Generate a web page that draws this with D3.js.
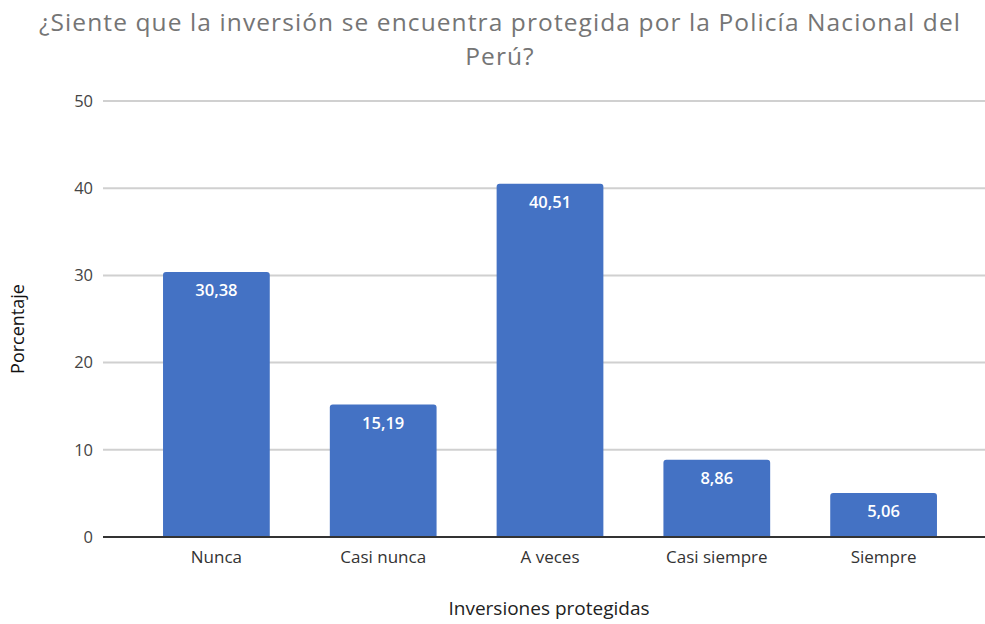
<!DOCTYPE html>
<html>
<head>
<meta charset="utf-8">
<script src="https://cdn.jsdelivr.net/npm/d3@7"></script>
<style>
  body { margin: 0; background: #fff; }
  svg { font-family: "Open Sans", "Noto Sans", sans-serif; }
</style>
</head>
<body>
<div id="chart"></div>
<script>
var categories = ["Nunca", "Casi nunca", "A veces", "Casi siempre", "Siempre"];
var values = [30.38, 15.19, 40.51, 8.86, 5.06];
var yTicks = [0, 10, 20, 30, 40, 50];
var titleLines = ["¿Siente que la inversión se encuentra protegida por la Policía Nacional del", "Perú?"];

function init() {
    var w = 985;
    var h = 624;

    var svg = d3.select("#chart")
        .append("svg")
        .attr("width", w)
        .attr("height", h);

    var xScale = d3.scaleBand()
        .domain(categories)
        .range([133, 967])
        .paddingInner(0.36)
        .paddingOuter(0.18);

    var yScale = d3.scaleLinear()
        .domain([0, 50])
        .range([537, 101]);

    // gridlines
    svg.append("g")
        .selectAll("line")
        .data(yTicks.filter(function(d) { return d > 0; }))
        .enter()
        .append("line")
        .attr("x1", 103)
        .attr("x2", w)
        .attr("y1", function(d) { return yScale(d); })
        .attr("y2", function(d) { return yScale(d); })
        .attr("stroke", "#d0d0d0")
        .attr("stroke-width", 2);

    // y tick labels
    var yAxis = d3.axisLeft(yScale)
        .tickValues(yTicks)
        .tickSize(0)
        .tickPadding(10);

    svg.append("g")
        .attr("transform", "translate(103,0)")
        .call(yAxis)
        .call(function(g) { g.select(".domain").remove(); })
        .selectAll("text")
        .attr("font-size", "16.5px")
        .attr("font-family", "Open Sans")
        .attr("fill", "#444");

    // bars with slightly rounded tops
    var r = 3;
    svg.append("g")
        .selectAll("path")
        .data(values)
        .enter()
        .append("path")
        .attr("fill", "#4472c4")
        .attr("d", function(d, i) {
            var x0 = xScale(categories[i]);
            var x1 = x0 + xScale.bandwidth();
            var y0 = yScale(0);
            var y1 = yScale(d);
            return "M" + x0 + "," + y0 +
                "V" + (y1 + r) +
                "Q" + x0 + "," + y1 + " " + (x0 + r) + "," + y1 +
                "H" + (x1 - r) +
                "Q" + x1 + "," + y1 + " " + x1 + "," + (y1 + r) +
                "V" + y0 + "Z";
        });

    // value labels
    svg.append("g")
        .selectAll("text")
        .data(values)
        .enter()
        .append("text")
        .attr("x", function(d, i) { return xScale(categories[i]) + xScale.bandwidth() / 2; })
        .attr("y", function(d) { return yScale(d) + 24; })
        .attr("text-anchor", "middle")
        .attr("font-size", "16.5px")
        .attr("font-weight", "600")
        .attr("fill", "#fff")
        .text(function(d) { return d.toFixed(2).replace(".", ","); });

    // zero baseline
    svg.append("line")
        .attr("x1", 103)
        .attr("x2", w)
        .attr("y1", yScale(0))
        .attr("y2", yScale(0))
        .attr("stroke", "#333")
        .attr("stroke-width", 2);

    // x axis labels
    var xAxis = d3.axisBottom(xScale)
        .tickSize(0)
        .tickPadding(14);

    svg.append("g")
        .attr("transform", "translate(0," + yScale(0) + ")")
        .call(xAxis)
        .call(function(g) { g.select(".domain").remove(); })
        .selectAll("text")
        .attr("font-size", "17px")
        .attr("font-family", "Open Sans")
        .attr("fill", "#333");

    // title
    svg.append("g")
        .selectAll("text")
        .data(titleLines)
        .enter()
        .append("text")
        .attr("x", 500)
        .attr("y", function(d, i) { return 31 + i * 34; })
        .attr("text-anchor", "middle")
        .attr("font-size", "24.5px")
        .attr("letter-spacing", "1.1px")
        .attr("fill", "#757575")
        .text(function(d) { return d; });

    // axis titles
    svg.append("text")
        .attr("x", 549)
        .attr("y", 615)
        .attr("text-anchor", "middle")
        .attr("font-size", "19px")
        .attr("fill", "#222")
        .text("Inversiones protegidas");

    svg.append("text")
        .attr("transform", "rotate(-90)")
        .attr("x", -329)
        .attr("y", 24)
        .attr("text-anchor", "middle")
        .attr("font-size", "18px")
        .attr("fill", "#111")
        .text("Porcentaje");
}
window.onload = init;
</script>
</body>
</html>
